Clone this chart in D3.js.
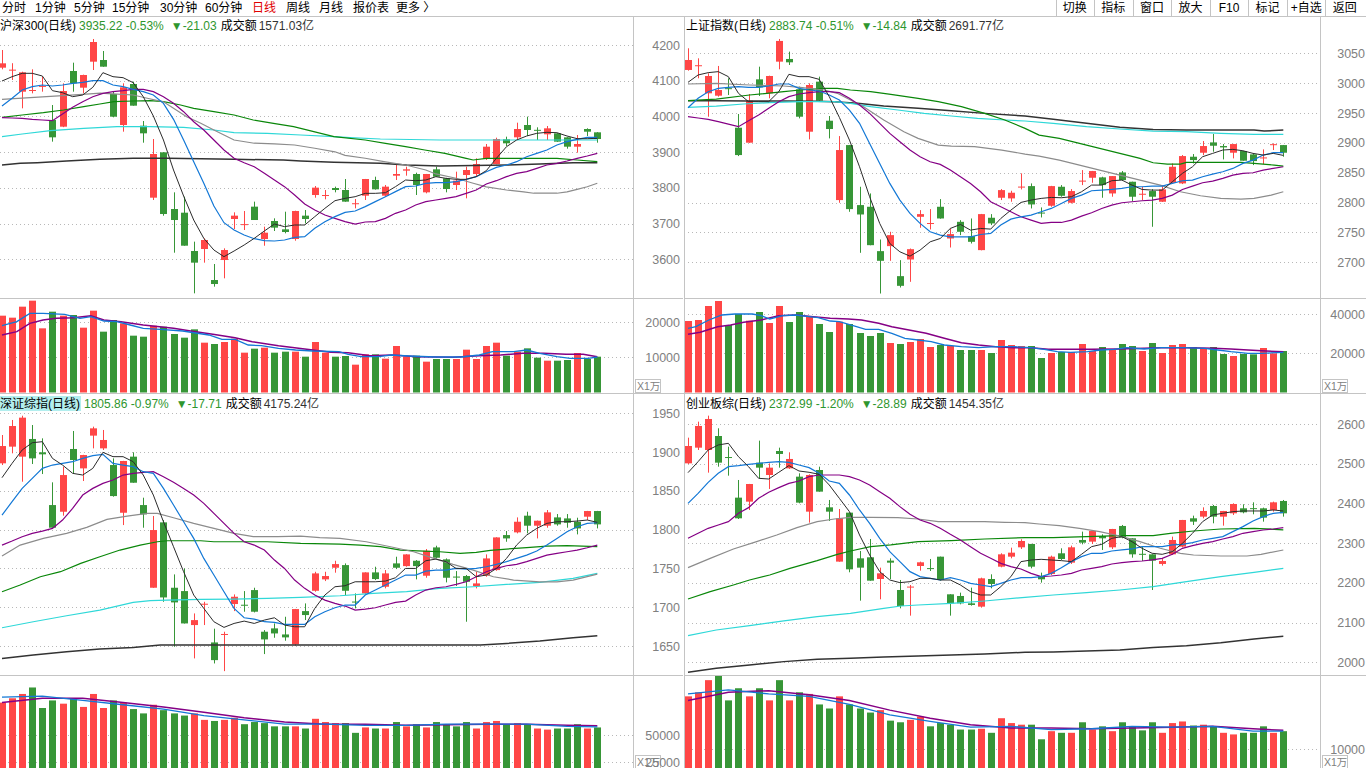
<!DOCTYPE html>
<html><head><meta charset="utf-8">
<script src="https://cdn.jsdelivr.net/npm/d3@7"></script>
<style>
body{margin:0;background:#fff;overflow:hidden}
text{font-family:"Liberation Sans","Noto Sans CJK SC",sans-serif;font-size:12px}
</style></head><body>
<svg id="c" width="1366" height="768"></svg>
<script>
// ===== toolbar =====
const periodTabs = [["分时",2],["1分钟",35],["5分钟",74],["15分钟",112],["30分钟",160],["60分钟",205],["日线",252],["周线",286],["月线",319],["报价表",353],["更多 〉",396]];
const toolButtons = ["切换","指标","窗口","放大","F10","标记","+自选","返回"];

// ===== 沪深300 =====
const hs300_header = [["沪深300(日线)","#000",0],["3935.22 -0.53%","#2e962e",3],["▼-21.03","#2e962e",7],["成交额","#000",4],["1571.03亿","#333",2]];
const hs300_ticks = [3600,3700,3800,3900,4000,4100,4200];
const hs300_vticks = [10000,20000];
const hs300_ohlc = [[4136.5,4186,4131.9,4148.7],[4130,4149,4102,4131],[4069.3,4125.3,4022.7,4123.5],[4073,4131.9,4064.7,4074],[4084.5,4111.3,4069.3,4085.5],[3990,4032,3929.4,3941.5],[3971.3,4092.7,3970,4071.2],[4127.2,4150.5,4069.3,4092.7],[4080.5,4117,4064.7,4116],[4153.3,4216.8,4130,4208.4],
[4158,4183.2,4139,4139.3],[4062.8,4069.3,3997.5,3999.3],[3976,4092.7,3957.3,4081.5],[4090.8,4097.3,4030,4030.1],[3974.1,3987.2,3926.5,3952.7],[3772.5,3936.8,3766,3894.8],[3899.5,3900,3722,3726.8],[3740.8,3787.5,3618.5,3710],[3730.5,3775.3,3638,3638.1],[3623.2,3649.4,3504.7,3590.6],
[3628.8,3658.7,3590.6,3654],[3542,3586.8,3523.4,3530.8],[3598,3630.7,3546.7,3626],[3712.8,3731.5,3684.8,3722.2],[3697.6,3735.2,3682,3698.5],[3747.4,3761.4,3710,3710],[3656.8,3691.3,3638,3674.5],[3707.2,3714.7,3679.2,3688.6],[3683.9,3733.3,3672.7,3676.4],[3656.8,3736,3652,3735.2],
[3722.2,3738,3700.7,3712.8],[3780,3805.2,3772.5,3800.6],[3779,3794,3767.9,3780],[3799.6,3803.4,3787.5,3794],[3794,3824.8,3761,3761.4],[3756.6,3768.8,3742.7,3757],[3778.1,3825,3766,3824.8],[3822,3831.3,3795,3795.9],[3778.1,3808,3775.3,3803.4],[3834.1,3864,3822,3838.8],
[3848.2,3859.3,3834.1,3851.9],[3838.8,3842.5,3780,3808],[3787.5,3839,3784.7,3838.8],[3851.9,3859.3,3831,3831.3],[3826.7,3828,3787.5,3796.8],[3808,3845.3,3794,3820.1],[3836,3859.3,3770.7,3850],[3838.8,3882.7,3831.3,3866.8],[3880.8,3922.8,3878,3915.3],[3866.8,3940.5,3866,3936.8],
[3935.9,3943.3,3917.2,3924.7],[3941.5,3982.5,3936.8,3964.8],[3976,3999.3,3945.2,3962],[3962.5,3969.5,3934,3961.5],[3949.9,3973.2,3934,3966.7],[3952.7,3953,3929,3929.4],[3941.5,3942,3909.7,3915.3],[3915.3,3948,3898.5,3922.8],[3964.8,3966.7,3945.2,3957.3],[3955.5,3956,3926.5,3936.8]];
const hs300_vol = [21894,21323,24466,26180,18276,23037,21894,22085,18466,23323,17323,20656,19705,16180,15894,19037,18751,16656,15609,17990,14180,13799,14371,15323,11323,12466,12751,11323,11609,11609,10180,14371,11323,10180,10371,7895,10847,10847,9609,13228,10180,10466,8752,9514,9514,9514,12180,9514,13228,14180,10466,11609,12561,9895,9037,9037,9228,11228,9514,10180];
const hs300_ma5 = [4099.2,4111.3,4120.7,4120.7,4113.2,4072.1,4066.5,4055.3,4060,4081.5,4122.5,4111.3,4108.5,4094.5,4055.3,4001.2,3934,3850,3777.2,3710,3658.7,3626,3607.4,3623.2,3640,3658.7,3679.2,3698.8,3691.4,3696,3696,3719.4,3742.7,3764.1,3770.7,3775.3,3784.7,3784.7,3786.5,3803.4,3822,3820.1,3822,3831.3,3826.7,3823.9,3823.9,3831.3,3848.2,3882.7,3915.3,3934,3945.2,3952.7,3955.5,3954.5,3945.2,3937.7,3937.7,3938.7];
const hs300_ma10 = [4029.2,4050.7,4074,4083.3,4088,4085.2,4088,4092.7,4095.5,4100.1,4100.1,4088,4083.3,4075.9,4069.3,4060,4036.7,3991.9,3934,3873.3,3812.7,3749.2,3702.5,3682,3668,3657.7,3652.1,3651.2,3654,3661.5,3663.4,3686.7,3705.4,3719.4,3731.5,3735.2,3747.4,3761.4,3775.3,3789.4,3803.4,3805.2,3812.7,3814.5,3814.5,3817.4,3823.9,3831.3,3845.3,3857.5,3864,3873.3,3887.3,3896.7,3906,3920,3929.4,3935.9,3941.5,3941.5];
const hs300_ma20 = [3996.5,3995.6,3994.7,3991.9,3990,3988.1,4006.8,4025.5,4041.3,4055.3,4064.7,4069.3,4072.1,4075.9,4075.9,4069.3,4055.3,4036.7,4013.3,3985.3,3962,3934,3906,3882.7,3870.5,3859.3,3840.7,3822,3803.4,3780,3754.8,3738,3724,3714.7,3705.4,3698.8,3704.4,3705.4,3714.7,3728.7,3738,3752,3761.4,3766,3770.7,3775.3,3784.7,3794,3810.8,3820.1,3831.3,3840.7,3845.3,3854.7,3864,3868.7,3875.2,3882.7,3889.2,3896.7];
const hs300_ma30 = [[0,4048],[2,4051],[4,4055],[6,4058],[8,4062],[9.75,4065],[11,4063],[13,4060],[14.4,4051],[16,4041],[17,4023],[18.3,3999],[19.7,3981],[21,3962],[22,3948],[23,3934],[25,3925],[27,3923],[29,3920],[31,3911],[33,3901],[34,3891],[36,3883],[38,3873],[40,3864],[42,3850],[43,3839],[45,3827],[46.7,3813],[48,3803],[50,3794],[51.7,3789],[52.7,3785],[55,3785],[56,3789],[57,3796],[58,3803],[59,3813]];
const hs300_ma60 = [[0,3997.5],[2,4004],[4.1,4010.5],[6.1,4018],[8.1,4027.3],[9.7,4034.8],[11.1,4041.3],[13,4043.2],[14.7,4044.1],[16,4041.3],[17.7,4032],[19,4022.7],[21,4013.3],[23,4004],[24.9,3990],[26.9,3980.7],[28.9,3971.3],[30.9,3957.3],[32.9,3943.3],[36,3934],[38,3924.7],[40,3915.3],[41.9,3906],[43.9,3896.7],[46,3882.7],[46.7,3878],[48,3882.7],[50,3882.7],[55,3882.7],[57,3878],[59,3873.3]];
const hs300_ma120 = [[0,3943.3],[2,3950.8],[4.8,3960.1],[8.1,3966.7],[11.4,3971.3],[14.7,3971.3],[18,3969.5],[21,3962],[23,3954.5],[26.3,3952.7],[29.6,3948],[32.9,3943.3],[34.5,3940.5],[37.5,3936.8],[43.4,3934],[59,3934]];
const hs300_ma250 = [[0,3864],[1.8,3868.7],[3.5,3870.5],[6.4,3875.2],[9.7,3879.9],[13,3882.7],[16.4,3882.7],[23,3879.9],[27.9,3878],[29.6,3875.2],[32.9,3871.5],[37.5,3868.7],[40.1,3864],[43.4,3861.2],[50,3864],[53.3,3866.8],[56.6,3870.5],[59,3870.5]];
const hs300_vma5 = [[0,19036],[1.47,20180],[2.76,22561],[4.06,22561],[6.22,22285],[7.73,21142],[8.81,21608],[10.1,20370],[11.4,20180],[12.7,19228],[14,18276],[15.7,17990],[17.9,17513],[20.5,16371],[21.8,15133],[23.1,15133],[24.4,13514],[25.7,13322],[27.4,12562],[29.1,12085],[30.8,11799],[33.4,11608],[34.3,10848],[35.6,10180],[37.3,10180],[38.6,10657],[40.3,10371],[42.9,10085],[45.5,10085],[47.3,10657],[48.6,11608],[50.7,11608],[52,12085],[53.3,11133],[55,10180],[56.3,9705],[58.1,9705],[59,10085]];
const hs300_vma10 = [[0,16371],[1.47,17323],[2.76,19705],[4.06,20656],[5.36,21142],[7.08,21323],[8.81,21894],[10.1,20656],[11.8,20180],[14,19228],[17,18276],[18.7,17513],[20.9,16561],[23.1,15609],[24.8,14466],[27.4,13322],[30,12371],[32.6,11419],[34.3,11323],[36.5,10466],[38.6,10657],[41.2,10180],[44.7,9991],[47.3,10466],[49.4,10657],[51.6,11133],[53.7,11133],[55.9,10848],[57.6,10848],[59,10180]];

// ===== 上证指数 =====
const sh_header = [["上证指数(日线)","#000",0],["2883.74 -0.51%","#2e962e",3],["▼-14.84","#2e962e",7],["成交额","#000",4],["2691.77亿","#333",2]];
const sh_ticks = [2700,2750,2800,2850,2900,2950,3000,3050];
const sh_vticks = [20000,40000];
const sh_ohlc = [[3022.1,3058.4,3020.9,3038.8],[3029.4,3041.6,3008.1,3030],[2983,3016.5,2943.8,3012],[2979,3028.8,2977.4,2988.5],[2991.6,3008.1,2980.2,2991],[2925.4,2948.3,2877.9,2879.6],[2900.3,2981.8,2900,2970.7],[3006.4,3027.6,2978.5,2993],[2983,3012.5,2974.6,3012],[3036,3074,3023.2,3070.7],
[3040.5,3052.8,3030.4,3034.9],[2989.6,2994.1,2941,2943.8],[2918.7,2999.7,2905.8,2996.9],[3002.5,3010.9,2970.5,2970.7],[2937.1,2945,2907.5,2923.2],[2804.2,2911.4,2799.7,2888],[2896.3,2896.5,2784.6,2789.1],[2795.8,2826.5,2715.9,2780.1],[2793,2815.3,2728.5,2728.7],[2718.7,2738.2,2647.7,2702.5],
[2727.1,2751.1,2702.5,2745.5],[2676.8,2703.6,2657.8,2660.6],[2704.7,2723.1,2667.3,2722],[2776.2,2787.4,2757.8,2780.7],[2765.2,2789.1,2755,2765.8],[2793,2805.8,2773,2773.4],[2739.9,2756.7,2724.8,2747.2],[2767.8,2770.6,2745.5,2751.1],[2743.8,2773.4,2731.5,2734.3],[2720.4,2781,2720,2780.7],
[2774.6,2780.7,2762.3,2765.1],[2808.1,2822.6,2804.2,2820.9],[2807,2819.8,2801.4,2816.5],[2826.2,2848.9,2822,2826.8],[2827.6,2832.1,2790.2,2796.9],[2783.3,2791.9,2775.1,2782.7],[2794.7,2828,2793,2827.6],[2826.5,2829.3,2809.8,2811.4],[2799.7,2822.6,2798.6,2819.3],[2836.2,2854.4,2829.3,2836.8],
[2841.6,2853,2833.2,2852.8],[2842.2,2843.3,2808.1,2829.3],[2815.3,2844.5,2809.8,2844.4],[2850.5,2852.8,2836.6,2837.7],[2834.9,2835,2802.5,2809.8],[2814.2,2826.5,2804.2,2814.8],[2819.3,2822.6,2759.5,2809.8],[2801.4,2829.3,2801,2822.1],[2833.2,2865.6,2832.1,2860],[2832.1,2879.6,2831,2877.9],
[2876.8,2881.3,2865.6,2871.2],[2883.5,2903.1,2879.6,2894.7],[2900.8,2914.8,2885.2,2895.2],[2894.7,2898,2872.3,2892.4],[2883.5,2898.2,2874,2898],[2886.3,2886.5,2870,2870.1],[2880.7,2882.4,2862.8,2869.5],[2875,2889.1,2864.5,2875.6],[2897.2,2899.1,2888,2897.8],[2896.3,2896.5,2876.8,2883.5]];
const sh_vol = [36563,37075,44255,46819,34511,40152,36734,41178,35537,44255,36050,41178,39127,35024,30922,36220,35024,30409,28871,30409,25281,24768,25794,27332,23230,24255,23743,21691,21691,21691,20153,26819,24255,23743,23743,17589,20153,20666,20666,24768,21179,23230,21691,24768,23743,21179,25281,20153,24255,24768,23230,22717,23230,19640,18614,19640,19469,22717,19982,21179];
const sh_ma5 = [3001.4,3013.7,3017.6,3019.3,3010.9,2983,2969,2969,2969,2985.7,3014.8,3010.9,3010.9,3006.4,2977.4,2942.7,2904.7,2860,2809.8,2765.1,2731.5,2717.6,2710.3,2720.4,2734.3,2739.9,2756.7,2763.4,2753.9,2756.7,2755.6,2773.4,2787.4,2800.3,2804.2,2807,2808.6,2808.1,2809.8,2818.1,2829.3,2829.3,2836.6,2837.7,2829.3,2822,2820.9,2820.9,2834.9,2848.9,2860,2876.8,2882.4,2888,2889.1,2886.8,2882.4,2879.6,2882.4,2879];
const sh_ma10 = [2958.9,2974.6,2985.7,2991.3,2993,2994.1,2993,2993,2995.2,2998.6,2998.6,2991.3,2988.5,2986.9,2980.2,2971.8,2955,2932.7,2899.1,2865.6,2832.1,2804.2,2781.8,2765.1,2751.1,2745.5,2742.7,2742.7,2742.7,2746.6,2748.3,2762.3,2772.3,2776.2,2779,2784.6,2790.2,2798.6,2807,2812.5,2819.8,2820.9,2822,2823.7,2826.5,2826.5,2827.6,2827.6,2832.1,2836.6,2837.7,2843.3,2847.7,2851.7,2857.2,2865.6,2871.2,2879.6,2883.5,2883.5];
const sh_ma20 = [2943.8,2941.6,2939.4,2935.5,2931.5,2927.1,2937.1,2946.6,2957.8,2969,2977.4,2981.8,2984.1,2985.7,2985.7,2984.1,2974.6,2963.4,2949.4,2932.7,2915.9,2901.9,2888,2876.8,2868.4,2864,2854.4,2843.3,2832.1,2818.1,2801.4,2793,2784.6,2776.2,2770.6,2765.1,2766.7,2766.7,2770.6,2777.3,2782.9,2790.2,2795.8,2799.7,2801.4,2803.1,2804.2,2807,2812.5,2822,2827.6,2833.2,2836,2840.5,2846.1,2848.9,2850,2854.4,2857.2,2860];
const sh_ma30 = [[0,2998.6],[2.8,2999.7],[6.1,2996.9],[9.5,2995.2],[11.1,2993],[13.5,2988.5],[14.8,2983],[16.1,2971.8],[17.4,2960.6],[19.4,2938.3],[21.4,2918.7],[22.8,2907.5],[24.8,2896.3],[26.1,2894.7],[28.4,2893.6],[31.1,2888],[33.4,2881.3],[34.8,2877.9],[36.8,2871.2],[38.8,2862.8],[40.8,2854.4],[42.8,2846.1],[44.8,2837.7],[46.8,2829.3],[48.8,2818.1],[50.8,2811.4],[52.8,2807],[54.8,2805.8],[56.1,2807],[57.8,2812.5],[59,2818.1]];
const sh_ma60 = [[0,2970.7],[2.8,2973.4],[6.1,2980.2],[9.5,2985.7],[11.1,2988.5],[13.5,2991.3],[14.8,2991.3],[16.1,2988.5],[18.1,2985.7],[20.1,2981.3],[22.8,2974.6],[24.8,2969],[27.1,2960.6],[29.4,2949.4],[31.4,2938.3],[33.4,2924.3],[34.8,2913.1],[36.8,2907.5],[38.8,2899.1],[40.8,2890.8],[42.8,2882.4],[44.8,2874],[46.1,2866.7],[47.5,2864.5],[48.8,2864.5],[49.4,2867.3],[51.4,2867.3],[54.8,2867.3],[56.1,2865.6],[58.1,2862.8],[59,2861.2]];
const sh_ma120 = [[0,2959.5],[2.8,2961.7],[5.5,2965.1],[8.1,2967.3],[11.1,2969],[14.5,2969],[16.1,2966.2],[18.1,2960.6],[20.8,2955],[23.4,2949.4],[26.1,2945],[28.7,2941],[31.4,2938.3],[33.4,2936.6],[36.2,2932.7],[39.5,2927.1],[42.8,2923.2],[46.1,2919.8],[49.4,2918.7],[52.8,2915.9],[56.1,2914.2],[59,2914.2]];
const sh_ma250 = [[0,2970.7],[2.8,2970.7],[6.1,2970.1],[9.5,2970.1],[12.8,2969.5],[14.5,2969],[16.8,2966.2],[19.4,2961.7],[22.8,2957.8],[26.1,2953.9],[29.4,2949.4],[33.4,2945],[36.2,2939.4],[39.5,2932.7],[42.8,2926],[46.1,2922.6],[49.4,2921.5],[52.8,2921.5],[56.1,2921.5],[57.1,2919.8],[59,2921.5]];
const sh_vma5 = [[0,32804],[0.78,33656],[2.07,37075],[3.36,39639],[4.66,40152],[6.38,40152],[7.24,39297],[8.1,37588],[9.4,39297],[10.7,39639],[12,38783],[12.9,38270],[14.1,36563],[15,36220],[16.7,33656],[17.6,32291],[18.9,32291],[20.2,30240],[21.5,27676],[22.8,26819],[24.1,25963],[25.4,24255],[27.1,23399],[28.8,22886],[30.5,23399],[32.3,23399],[34,22886],[35.3,22035],[36.6,20835],[37.9,20497],[39.6,20835],[40.9,21691],[42.2,22035],[43.5,22886],[45.2,22204],[46.9,22886],[49.1,22886],[51.2,22548],[52.5,21691],[53.8,20835],[55.5,19984],[56.8,19984],[59,20497]];
const sh_vma10 = [[0,29727],[1.21,30753],[2.93,33656],[4.23,34511],[5.52,35881],[7.24,37075],[8.97,39297],[10.7,39639],[12.4,38783],[14.1,37947],[15.9,37588],[17.2,37075],[18.9,35368],[20.2,33656],[21.9,31948],[23.6,30240],[25.4,27676],[27.1,25450],[28.8,24255],[30.5,23399],[32.3,22886],[34,22886],[35.7,22035],[37.4,22035],[40,22035],[42.6,22204],[45.2,22548],[46.9,22886],[49.5,22886],[52.1,22548],[53.8,22204],[55.5,21691],[57.3,21179],[59,20835]];

// ===== 深证综指 =====
const sz_header = [["深证综指(日线)","#000",0],["1805.86 -0.97%","#2e962e",4],["▼-17.71","#2e962e",7],["成交额","#000",4],["4175.24亿","#333",2]];
const sz_ticks = [1650,1700,1750,1800,1850,1900,1950];
const sz_vticks = [25000,50000];
const sz_ohlc = [[1885.5,1922,1883.3,1907.8],[1907,1941.4,1898.4,1933.6],[1894.1,1946.9,1861.8,1944.4],[1916.9,1934.9,1884.6,1891.9],[1899.7,1917.7,1871.7,1897.1],[1831.7,1861,1802.5,1802.5],[1823.1,1881.2,1818,1870.4],[1904,1927.2,1872.6,1889.8],[1879,1896.5,1862.7,1896.2],[1921.2,1932.8,1904.8,1930.6],
[1904.8,1928.5,1902.7,1915.6],[1883.3,1891.9,1842.5,1843.3],[1821.8,1888.7,1805.9,1888.5],[1894.1,1899.7,1860.5,1860.5],[1831.7,1841.2,1802.5,1819.7],[1725.1,1817.6,1725,1799.5],[1809.4,1812.4,1707,1712.6],[1725.1,1742.3,1649,1706.2],[1720.8,1750,1679,1679.1],[1677,1692,1634,1683.4],
[1703.8,1707,1677,1704.5],[1654.6,1672.3,1627.5,1631.8],[1665,1668.4,1617.6,1665.5],[1704.1,1716.5,1695,1713.5],[1703.2,1720.8,1694.2,1702.5],[1722.1,1725.1,1693.3,1694.2],[1668.4,1670.5,1639.6,1658.5],[1672.7,1679.1,1660.6,1666.2],[1664.9,1687.7,1656.8,1661.1],[1652.1,1697.8,1650.3,1697.6],
[1695,1704.9,1683.4,1689.9],[1721.2,1745.7,1720,1743.6],[1735.9,1745.7,1733.7,1740.2],[1750.9,1759.9,1744.5,1755.6],[1754.3,1756.5,1715.7,1721.2],[1707.3,1717.8,1698.5,1706.8],[1717.8,1745,1716.5,1744.9],[1744.9,1752.2,1735,1736.3],[1726.4,1747.9,1724.3,1743.6],[1756.5,1765.1,1749.2,1750.9],
[1753,1768.3,1752.2,1768.1],[1759.9,1760.8,1735.9,1753],[1740.6,1775,1738,1772.8],[1777.1,1779.3,1762.9,1763.8],[1761.7,1762.9,1732,1738],[1739.5,1746.6,1727.3,1739],[1740.2,1741.5,1681.3,1732.8],[1727.3,1745.7,1724.3,1730.7],[1740.6,1768.1,1739.3,1762.9],[1747.9,1790.2,1747,1790],
[1793,1798.2,1784.4,1788.7],[1796.5,1815.8,1795.2,1810.2],[1818,1823.1,1795.2,1805.1],[1805.1,1811.7,1788.7,1811.5],[1805.1,1825.3,1802.5,1822.3],[1815.8,1820.1,1805.1,1806.8],[1814.5,1820.1,1802.5,1808.9],[1810.2,1815.4,1793.9,1801.6],[1816.7,1824.2,1812.4,1824],[1824,1824.2,1801.6,1806.8]];
const sz_vol = [80000,84000,88000,94000,75000,82000,79000,84000,76000,88000,75000,82000,80000,74000,70000,78000,73000,70000,68000,70000,64000,63000,64000,66000,60000,62000,61000,58000,58000,58000,56000,65000,62000,61000,61000,52000,57000,56000,56000,62000,58000,60000,57000,62000,60000,58000,62000,56000,62000,63000,60000,61000,60000,56000,55000,56000,56000,60000,56000,57000];
const sz_ma5 = [1867,1885.5,1902.7,1912.1,1913.4,1891.9,1883.3,1872.6,1870.4,1879,1899.7,1894.1,1894.1,1887.6,1870.4,1844.6,1810.2,1778,1745.8,1715.7,1698.5,1681.3,1674,1679.1,1682.1,1679.1,1683.4,1686.4,1677,1674.8,1674.8,1698.5,1715.7,1726.4,1727.7,1732.8,1732.8,1732.8,1733.7,1738,1750,1750,1759.9,1762.1,1758.7,1750,1750,1739.3,1741.5,1750,1762.9,1780.1,1793,1801.6,1808.1,1810.2,1810.2,1811.1,1812.4,1809.4];
const sz_ma10 = [1818.8,1836,1853.2,1866.1,1879,1883.3,1885.5,1887.6,1891.9,1895.4,1897.1,1885.5,1883.3,1881.2,1874.7,1872.6,1853.2,1831.7,1810.2,1788.7,1762.9,1741.5,1720,1698.5,1686.4,1684.7,1681.3,1680.4,1677.8,1677.8,1677.8,1687.7,1694.2,1699.3,1702.8,1702.8,1715.7,1722.1,1728.6,1735,1741.5,1741.5,1746.6,1747.9,1747.9,1750,1749.2,1750,1752.2,1755.2,1758.7,1762.9,1767.2,1772.4,1780.1,1788.7,1797.3,1803.8,1808.1,1808.9];
const sz_ma20 = [1780.1,1785.3,1790.9,1795.2,1798.2,1801.6,1812.4,1827.4,1844.6,1853.2,1859.7,1864,1870.4,1872.6,1873.9,1874.7,1868.3,1861,1853.2,1844.6,1833.9,1821,1808.1,1795.2,1784.4,1780.1,1773.7,1760.8,1750,1735,1724.3,1715.7,1709.2,1704.9,1701.5,1696.3,1697.6,1699.3,1702.8,1706.2,1707.9,1715.7,1722.1,1725.1,1726.4,1729.4,1732.8,1739.3,1745.8,1750,1753.5,1755.2,1758.7,1762.9,1767.2,1769.4,1771.5,1773.7,1776.7,1780.1];
const sz_ma30 = [[0,1766],[1.8,1780.1],[4.1,1788.7],[6.4,1795.2],[8.4,1802.9],[10.4,1813.2],[12.4,1817.5],[14.4,1821],[15.4,1821],[17,1815.4],[19,1808.1],[21,1801.6],[23,1795.2],[24.9,1790.9],[27.3,1790.9],[29.6,1791.7],[31.5,1789.6],[33.5,1788.7],[36.1,1784.4],[38.5,1778],[40.8,1771.5],[42.8,1762.9],[44.7,1755.2],[46.7,1747.9],[48.7,1739.3],[50.7,1735],[53.3,1732.8],[55,1732.8],[56.6,1735],[59,1742.7]];
const sz_ma60 = [[0,1720],[1.8,1728.6],[3.8,1739.3],[5.8,1745.8],[7.8,1756.5],[9.7,1765.1],[11.7,1773.7],[13.7,1780.1],[15.4,1784.4],[16.4,1785.7],[19.7,1785.7],[21,1784.4],[26.3,1784.4],[29.6,1782.3],[33.5,1781.4],[35.5,1780.1],[37.5,1778],[39.5,1773.7],[41.8,1772.4],[43.4,1771.5],[45.4,1769.4],[47,1770.7],[48.4,1773.3],[50,1775],[52,1776.7],[54,1778.8],[56,1779.3],[59,1778]];
const sz_ma120 = [[0,1673.5],[3.1,1681.3],[6.4,1689],[9.7,1696.3],[13,1706.2],[14.7,1708.4],[16.4,1709.2],[19.7,1710.1],[23,1710.5],[26.3,1711.4],[29.6,1712.7],[33.5,1714.8],[36.8,1717.8],[40.1,1720],[43.4,1724.3],[46.7,1726.4],[50,1729.4],[53.3,1732],[56.6,1737.2],[59,1743.6]];
const sz_ma250 = [[0,1634],[3.1,1638.3],[6.4,1642.6],[9.7,1646],[13,1648.2],[15.7,1651.2],[26.3,1651.2],[33.5,1651.2],[47.4,1651.2],[50,1653.3],[53.3,1656.3],[56.6,1660.6],[59,1663.2]];
const sz_vma5 = [[0,85000],[4,86000],[8,82000],[12,78000],[16,74000],[20,68000],[24,64000],[28,60000],[32,60000],[36,59000],[40,59000],[44,60000],[48,60000],[52,60000],[56,58000],[59,57500]];
const sz_vma10 = [[0,80000],[4,84000],[8,84000],[12,80000],[16,76000],[20,71000],[24,66000],[28,62000],[32,60000],[36,60000],[40,59000],[44,59500],[48,60000],[52,60000],[56,59000],[59,58500]];

// ===== 创业板综 =====
const cy_header = [["创业板综(日线)","#000",0],["2372.99 -1.20%","#2e962e",3],["▼-28.89","#2e962e",7],["成交额","#000",4],["1454.35亿","#333",2]];
const cy_ticks = [2000,2100,2200,2300,2400,2500,2600];
const cy_vticks = [10000];
const cy_ohlc = [[2501.6,2566.3,2500,2545.3],[2541.1,2606.7,2535.2,2595.8],[2535.2,2621.8,2478.1,2613.4],[2570.5,2589.9,2493.2,2503.3],[2517.5,2543.6,2470.5,2516.8],[2415.1,2459.6,2361.3,2363],[2405,2449.7,2384,2449.5],[2503.3,2558.8,2463.8,2490.7],[2472.2,2501.6,2437,2490.7],[2532.7,2541.1,2490.7,2525.2],
[2489,2529.4,2487.4,2512.6],[2468,2476.4,2400.8,2402.5],[2379.8,2473.9,2352.1,2472.2],[2484.8,2493.2,2430,2430.2],[2390.7,2409.2,2356.3,2379.8],[2253.8,2386.5,2253.5,2363],[2377.3,2377.5,2226.9,2234.4],[2262.1,2280.6,2155.4,2238.6],[2264.7,2310.9,2205.5,2205.8],[2210,2238.6,2158.8,2224.3],
[2256.3,2262.1,2210,2251.2],[2182.3,2207.5,2136.1,2142],[2190.3,2194.9,2117.6,2190.9],[2242.8,2253.8,2231,2252.1],[2237.5,2260.5,2230.2,2236.9],[2266.3,2266.5,2205.8,2207.5],[2171.4,2171.6,2117.6,2148.7],[2167.2,2175.6,2146.2,2148.7],[2148.7,2188.2,2142.8,2144.5],[2140.3,2213.4,2137.8,2211.7],
[2210,2221.8,2186.5,2197.4],[2241.1,2274.8,2239.5,2272.2],[2266.3,2289,2262.1,2276.4],[2289.9,2310.1,2285.7,2305.8],[2298.3,2298.5,2236.9,2241.1],[2217.6,2226,2200.8,2209.2],[2222.7,2268.9,2220.1,2266.3],[2274.8,2287.4,2258,2260.5],[2251.2,2294.1,2247.9,2289.9],[2308.4,2329.4,2297.4,2301.6],
[2304.2,2331.3,2298.3,2331.1],[2318.4,2322.6,2283.2,2312.6],[2289.9,2336.3,2285.7,2336.1],[2343.7,2346.2,2312.6,2314.3],[2312.6,2312.8,2263.8,2272.2],[2273.5,2291.6,2255.4,2273],[2272.2,2272.4,2182.3,2256.3],[2247.9,2262.1,2243.7,2255.4],[2272.2,2316.8,2270.5,2308.4],[2291.6,2359,2289.9,2358.8],
[2363,2369.7,2346.2,2354.6],[2367.2,2390.7,2363,2381.5],[2394.1,2396.6,2350.4,2367.2],[2367.2,2381.7,2344.5,2381.5],[2375.6,2400.8,2371.4,2399.1],[2388.2,2398.3,2375.6,2378.1],[2388.6,2403.3,2373.1,2388],[2388.2,2389.9,2354.6,2364.7],[2384,2405,2379.8,2403.3],[2406.7,2409.2,2367.2,2375.6]];
const cy_vol = [16500,17000,18500,19300,16000,17500,16500,17500,16000,18500,16000,17000,16800,15500,15000,16500,15500,15000,14500,14800,13500,13300,13600,14000,12800,13200,13000,12400,12400,12500,12000,13800,13200,13000,13000,11200,12200,12000,12000,13300,12400,12800,12200,13300,12800,12300,13300,12000,13200,13400,12900,13000,12800,12000,11800,12000,12000,12800,12000,12200];
const cy_ma5 = [2478.1,2505.8,2535.2,2547.9,2552.1,2518.4,2493.2,2463.8,2462.1,2479,2495.8,2482.3,2479,2473.9,2447,2413.4,2379.8,2321,2270.6,2228.5,2207.5,2200.8,2203.3,2211.7,2211.7,2207.5,2207.5,2194.9,2178.1,2169.7,2169.7,2190.7,2215.9,2253.8,2257.9,2259.6,2257.9,2256.3,2253.8,2272.2,2291.6,2297.4,2312.6,2316.8,2304.2,2287.4,2274.8,2272.2,2278.9,2300,2325.2,2354.6,2371.4,2375.6,2379.8,2381.5,2381.5,2381.5,2384,2381.5];
const cy_ma10 = [2400.8,2426,2453.7,2476.4,2493.2,2495.8,2499.1,2501.6,2504.2,2505.8,2504.2,2497.4,2490.7,2476.4,2457.1,2451.2,2421.8,2384,2350.4,2312.6,2279,2253.8,2228.5,2215.9,2211.7,2207.5,2213.4,2207.5,2199.1,2194.9,2190.7,2199.1,2207.5,2213.4,2213.4,2215.9,2224.3,2238.6,2253.8,2266.3,2274.8,2274.8,2280.6,2283.2,2285.7,2291.6,2291.6,2291.6,2295.8,2297.4,2301.6,2308.4,2312.6,2316.8,2329.4,2342,2356.3,2367.2,2375.6,2378.1];
const cy_ma20 = [2312.6,2325.2,2337.8,2346.2,2354.6,2375.6,2389.9,2413.4,2428.5,2440.3,2451.2,2457.1,2468,2472.2,2472.2,2472.2,2468,2459.6,2447,2430.2,2413.4,2392.4,2373.1,2358.8,2350.4,2337.8,2322.6,2308.4,2291.6,2274.8,2262.1,2249.5,2241.1,2235.2,2224.3,2215.9,2217.6,2220.1,2224.3,2232.7,2236.9,2241.1,2247.9,2251.2,2253.8,2255.4,2258,2262.1,2272.2,2287.4,2294.1,2300,2304.2,2310.9,2316.8,2325.2,2329.4,2333.6,2336.1,2339.5];
const cy_ma30 = [[0,2238.6],[2.2,2262.1],[4.5,2285.7],[6.8,2304.2],[8.8,2321],[10.8,2339.5],[12.8,2354.6],[14.5,2361.3],[16.1,2365.5],[18.1,2365.5],[20.8,2364.7],[22.8,2361.3],[24.8,2354.6],[27.1,2354.6],[29.4,2354.6],[31.4,2352.9],[33.4,2352.1],[34.8,2348.7],[36.8,2344.5],[38.8,2337.8],[40.8,2329.4],[42.8,2318.4],[44.8,2304.2],[46.8,2287.4],[48.8,2274.8],[50.1,2270.5],[52.8,2268],[55.4,2268],[56.8,2272.2],[59,2283.2]];
const cy_ma60 = [[0,2159.6],[2.2,2178.1],[4.5,2194.9],[6.1,2207.5],[8.1,2220.1],[10.1,2236.9],[12.8,2256.3],[14.8,2272.2],[16.1,2280.6],[18.1,2291.6],[20.1,2295.8],[22.8,2304.2],[26.1,2306.7],[29.4,2310.9],[33.4,2314.3],[36.2,2314.3],[39.5,2316.8],[42.8,2319.3],[46.1,2319.3],[47.8,2325.2],[50.1,2331],[52.8,2336.1],[56.1,2337.8],[58.1,2335.3],[59,2333.6]];
const cy_ma120 = [[0,2067.2],[2.8,2081.5],[6.1,2092.4],[9.5,2104.2],[12.8,2115.1],[16.1,2123.5],[19.4,2136.1],[21.1,2142],[22.8,2144.5],[26.1,2148.7],[29.4,2154.6],[33.4,2163.8],[36.2,2169.7],[39.5,2175.6],[42.8,2182.3],[46.1,2190.7],[49.4,2203.3],[52.8,2215.9],[56.1,2226.9],[59,2236.9]];
const cy_ma250 = [[0,1974.8],[2.8,1984.8],[6.1,1993.3],[9.5,2001.7],[12.8,2007.5],[16.1,2010],[19.4,2013.4],[22.8,2015.9],[26.1,2018.4],[29.4,2021],[33.4,2025.2],[36.2,2026],[39.5,2028.5],[42.8,2031.1],[46.1,2037],[49.4,2042],[52.8,2049.5],[56.1,2058.8],[59,2065.5]];
const cy_vma5 = [[0,16800],[4,17300],[8,16800],[12,16500],[16,15500],[20,14200],[24,13400],[28,12700],[32,12800],[36,12400],[40,12500],[44,12800],[48,12700],[52,12800],[56,12200],[59,12200]];
const cy_vma10 = [[0,16000],[4,17000],[8,17200],[12,16700],[16,16000],[20,14800],[24,13800],[28,13000],[32,12600],[36,12600],[40,12500],[44,12600],[48,12700],[52,12800],[56,12500],[59,12300]];

// ===== drawing =====
const RED = "#ff4646", GREEN = "#379637";
const MA_STYLE = {ma250:["#333",1.5],ma120:["#2fd8d8",1.2],ma60:["#0a870a",1.2],ma30:["#8c8c8c",1.2],ma20:["#850085",1.2],ma10:["#1378d6",1.2],ma5:["#2b2b2b",1]};
const svg = d3.select("#c");
svg.append("rect").attr("width",1366).attr("height",768).attr("fill","#fff");
const defs = svg.append("defs");

const panels = [
  {id:"hs", header:hs300_header, ohlc:hs300_ohlc, vol:hs300_vol, ticks:hs300_ticks, vticks:hs300_vticks,
   ma:{ma5:hs300_ma5,ma10:hs300_ma10,ma20:hs300_ma20,ma30:hs300_ma30,ma60:hs300_ma60,ma120:hs300_ma120,ma250:hs300_ma250}, vma5:hs300_vma5, vma10:hs300_vma10,
   cx0:0, cx1:633, c0:2, labelR:680, pTop:18, pBot:298.5, pDom:[3600,4200], pRng:[259.3,45], vTop:299, vBot:392.5, vDom:[0,20000], vRng:[392.3,322.3], hy:30, boxY:379},
  {id:"sh", header:sh_header, ohlc:sh_ohlc, vol:sh_vol, ticks:sh_ticks, vticks:sh_vticks,
   ma:{ma5:sh_ma5,ma10:sh_ma10,ma20:sh_ma20,ma30:sh_ma30,ma60:sh_ma60,ma120:sh_ma120,ma250:sh_ma250}, vma5:sh_vma5, vma10:sh_vma10,
   cx0:684, cx1:1320, c0:688, labelR:1365, pTop:18, pBot:298.5, pDom:[2700,3050], pRng:[262.3,53.3], vTop:299, vBot:392.5, vDom:[0,40000], vRng:[392.3,314.3], hy:30, boxY:379},
  {id:"sz", header:sz_header, ohlc:sz_ohlc, vol:sz_vol, ticks:sz_ticks, vticks:sz_vticks,
   ma:{ma5:sz_ma5,ma10:sz_ma10,ma20:sz_ma20,ma30:sz_ma30,ma60:sz_ma60,ma120:sz_ma120,ma250:sz_ma250}, vma5:sz_vma5, vma10:sz_vma10,
   cx0:0, cx1:633, c0:2, labelR:680, pTop:394, pBot:675.5, pDom:[1650,1950], pRng:[646,413.3], vTop:676, vBot:770, vDom:[25000,50000], vRng:[762,735], hy:408, boxY:755, hl:true},
  {id:"cy", header:cy_header, ohlc:cy_ohlc, vol:cy_vol, ticks:cy_ticks, vticks:cy_vticks,
   ma:{ma5:cy_ma5,ma10:cy_ma10,ma20:cy_ma20,ma30:cy_ma30,ma60:cy_ma60,ma120:cy_ma120,ma250:cy_ma250}, vma5:cy_vma5, vma10:cy_vma10,
   cx0:684, cx1:1320, c0:688, labelR:1365, pTop:394, pBot:675.5, pDom:[2000,2600], pRng:[662.3,424.3], vTop:676, vBot:770, vDom:[0,10000], vRng:[830,749], hy:408, boxY:755}
];

function dotted(g, x0, x1, yy){
  g.append("line").attr("x1",x0).attr("x2",x1).attr("y1",Math.round(yy)+0.5).attr("y2",Math.round(yy)+0.5)
   .attr("stroke","#b8b8b8").attr("stroke-dasharray","1,3");
}

panels.forEach(P=>{
  const n = P.ohlc.length;
  const x = d3.scaleLinear().domain([0,n-1]).range([P.c0, P.c0+10.09*(n-1)]);
  const y = d3.scaleLinear().domain(P.pDom).range(P.pRng);
  const yv = d3.scaleLinear().domain(P.vDom).range(P.vRng);
  defs.append("clipPath").attr("id","cp_"+P.id).append("rect").attr("x",P.cx0).attr("y",P.pTop).attr("width",P.cx1-P.cx0).attr("height",P.pBot-P.pTop);
  defs.append("clipPath").attr("id","cv_"+P.id).append("rect").attr("x",P.cx0).attr("y",P.vTop).attr("width",P.cx1-P.cx0).attr("height",P.vBot-P.vTop);

  // grid
  const grid = svg.append("g");
  P.ticks.forEach(t=>dotted(grid,P.cx0,P.cx1,y(t)));
  P.vticks.forEach(t=>dotted(grid,P.cx0,P.cx1,yv(t)));

  // candles
  const gp = svg.append("g").attr("clip-path",`url(#cp_${P.id})`);
  const cs = gp.selectAll("g.k").data(P.ohlc).join("g");
  const col = d=> d[3]>=d[0]?RED:GREEN;
  cs.append("line")
    .attr("x1",(d,i)=>Math.round(x(i))+0.5).attr("x2",(d,i)=>Math.round(x(i))+0.5)
    .attr("y1",d=>y(d[1])).attr("y2",d=>y(d[2])).attr("stroke",col).attr("stroke-width",1);
  cs.append("rect")
    .attr("x",(d,i)=>Math.round(x(i))-3).attr("width",7)
    .attr("y",d=>y(Math.max(d[0],d[3])))
    .attr("height",d=>Math.max(1,Math.abs(y(d[0])-y(d[3]))))
    .attr("fill",col);

  // moving averages
  ["ma250","ma120","ma60","ma30","ma20","ma10","ma5"].forEach(k=>{
    const arr = P.ma[k];
    const pts = typeof arr[0]==="number" ? arr.map((v,i)=>[i,v]) : arr;
    gp.append("path").attr("d", d3.line().x(d=>x(d[0])).y(d=>y(d[1]))(pts))
      .attr("fill","none").attr("stroke",MA_STYLE[k][0]).attr("stroke-width",MA_STYLE[k][1]);
  });

  // volume
  const gv = svg.append("g").attr("clip-path",`url(#cv_${P.id})`);
  gv.selectAll("rect").data(P.vol).join("rect")
    .attr("x",(d,i)=>Math.round(x(i))-3).attr("width",7)
    .attr("y",d=>yv(d)).attr("height",d=>Math.max(0,P.vBot+40-yv(d)))
    .attr("fill",(d,i)=>col(P.ohlc[i]));
  [[P.vma10,"#850085",1.5],[P.vma5,"#1378d6",1.3]].forEach(([arr,c,w])=>{
    gv.append("path").attr("d",d3.line().x(d=>x(d[0])).y(d=>yv(d[1]))(arr))
      .attr("fill","none").attr("stroke",c).attr("stroke-width",w);
  });

  // X1万 box (behind labels)
  svg.append("rect").attr("x",P.cx1+2.5).attr("y",P.boxY+0.5).attr("width",25).attr("height",13).attr("fill","none").attr("stroke","#c4c4c4");
  svg.append("text").attr("x",P.cx1+4).attr("y",P.boxY+11).attr("fill","#808080").style("font-size","10.5px").text("X1万");

  // axes (labels only)
  const ax = svg.append("g").attr("transform",`translate(${P.cx1},0)`)
    .call(d3.axisRight(y).tickValues(P.ticks).tickSize(0).tickFormat(d3.format("d")));
  const av = svg.append("g").attr("transform",`translate(${P.cx1},0)`)
    .call(d3.axisRight(yv).tickValues(P.vticks).tickSize(0).tickFormat(d3.format("d")));
  [ax,av].forEach(a=>{
    a.select(".domain").remove();
    a.selectAll("text").attr("x",P.labelR-P.cx1).attr("text-anchor","end")
      .attr("fill","#808080").style("font-size","12.5px").style("font-family","Liberation Sans, sans-serif");
  });

  // header
  if(P.hl) svg.append("rect").attr("x",P.cx0).attr("y",P.hy-12).attr("width",81).attr("height",15).attr("fill","#b2eeee");
  const ht = svg.append("text").attr("x",P.cx0===0?0:686).attr("y",P.hy);
  P.header.forEach(([s,c,gap])=>ht.append("tspan").attr("dx",gap).attr("fill",c).text(s));
});

// frame lines
const fr = svg.append("g").attr("stroke","#c4c4c4").attr("stroke-width",1);
[[0,1366,16.5,16.5],[0,683,298.5,298.5],[684,1366,298.5,298.5],[0,1366,393.5,393.5],[0,683,675.5,675.5],[684,1366,675.5,675.5],
 [633.5,633.5,17,768],[684.5,684.5,17,768],[1320.5,1320.5,17,768]].forEach(([x1,x2,y1,y2])=>
  fr.append("line").attr("x1",x1).attr("x2",x2).attr("y1",y1).attr("y2",y2));

// toolbar
const tb = svg.append("g");
periodTabs.forEach(([s,xx])=>tb.append("text").attr("x",xx).attr("y",12).attr("fill",s==="日线"?"#e00000":"#000").text(s));
const bx = d3.scaleLinear().domain([0,toolButtons.length]).range([1055.5,1364]);
toolButtons.forEach((s,i)=>{
  tb.append("line").attr("x1",Math.round(bx(i))+0.5).attr("x2",Math.round(bx(i))+0.5).attr("y1",0).attr("y2",16).attr("stroke","#c4c4c4");
  tb.append("text").attr("x",(bx(i)+bx(i+1))/2).attr("y",12).attr("text-anchor","middle").attr("fill","#000").text(s);
});
</script></body></html>
